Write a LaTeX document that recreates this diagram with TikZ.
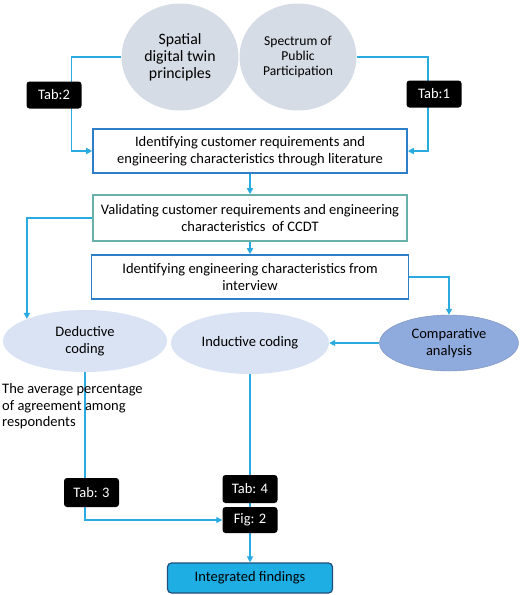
\documentclass[tikz,border=0pt]{standalone}
\usepackage{fontspec}
\setmainfont{Carlito}
\usetikzlibrary{%
        arrows.meta,
        shapes.geometric
    }
\definecolor{flowblue}{RGB}{41, 171, 226}
\definecolor{boxblue}{RGB}{47, 127, 200}
\definecolor{boxteal}{RGB}{106, 176, 170}
\definecolor{circlegray}{RGB}{214, 220, 229}
\definecolor{ovalblue}{RGB}{218, 227, 243}
\definecolor{compblue}{RGB}{143, 170, 220}
\definecolor{findblue}{RGB}{30, 174, 228}
\definecolor{darkblue}{RGB}{31, 78, 121}
\pgfdeclarelayer{background}
\pgfsetlayers{background,main}
\tikzset{%
    flow/.style={draw=flowblue, line width=1.6pt,
        -{Triangle[length=6pt, width=6pt]}},
    plain/.style={draw=flowblue, line width=1.6pt},
    tabel/.style={fill=black, text=white, rounded corners=3pt,
        minimum width=55pt, minimum height=27pt, inner sep=0pt,
        font=\fontsize{14.5}{16}\selectfont},
    stepbox/.style={draw, fill=white, line width=1.6pt, align=center,
        minimum height=44pt, inner sep=2pt,
        font=\fontsize{14.5}{17}\selectfont},
    oval/.style={ellipse, fill=ovalblue, align=center, inner sep=0pt,
        font=\fontsize{14.5}{17}\selectfont}
}

\begin{document}
\begin{tikzpicture}[x=1pt, y=-1pt]

    \useasboundingbox (0, 0) rectangle (520, 595);

    % Sources
    \node[ellipse, fill=circlegray, minimum width=117pt, minimum height=107pt,
        align=center, inner sep=0pt, font=\fontsize{15.8}{17}\selectfont]
        (sdt) at (180, 57) {Spatial\\digital twin\\principles};
    \node[ellipse, fill=circlegray, minimum width=117pt, minimum height=107pt,
        align=center, inner sep=0pt, font=\fontsize{13.6}{15}\selectfont]
        (spp) at (298, 57) {Spectrum of\\Public\\Participation};

    \node[tabel] (tab2) at (54, 95) {Tab:2};
    \node[tabel] (tab1) at (434, 94) {Tab:1};

    % Steps
    \node[stepbox, draw=boxblue, minimum width=314pt] (lit) at (250, 151)
        {Identifying customer requirements and\\
         engineering characteristics through literature};
    \node[stepbox, draw=boxteal, minimum width=314pt, minimum height=46pt]
        (val) at (250, 218)
        {Validating customer requirements and engineering\\
         characteristics \ of CCDT};
    \node[stepbox, draw=boxblue, minimum width=317pt] (intv) at (250, 277)
        {Identifying engineering characteristics from\\interview};

    % Coding
    \node[oval, minimum width=164pt, minimum height=62pt] (ded) at (85, 341)
        {Deductive\\coding};
    \node[oval, minimum width=158pt, minimum height=62pt] (ind) at (250, 343)
        {Inductive coding};
    \node[oval, fill=compblue, draw=compblue!85!black, line width=0.4pt,
        minimum width=139pt, minimum height=56pt] (comp) at (449, 343)
        {Comparative\\analysis};

    \node[anchor=north west, align=left, inner sep=0pt,
        font=\fontsize{14.5}{16.8}\selectfont] (avg) at (2, 383)
        {The average percentage\\of agreement among\\respondents};

    % Results
    \node[tabel, minimum height=29pt] (tab3) at (91.5, 492.5) {Tab: 3};
    \node[tabel, minimum height=28pt] (tab4) at (250, 489) {Tab: 4};
    \node[tabel, minimum height=26pt] (fig2) at (250, 520) {Fig: 2};

    \node[fill=findblue, draw=darkblue, line width=1.2pt, rounded corners=4pt,
        minimum width=165pt, minimum height=30pt,
        font=\fontsize{14.5}{16}\selectfont] (intf) at (250, 578)
        {Integrated findings};

    % Connecting up
    \begin{pgfonlayer}{background}
        \draw[flow] (sdt.west) -- ++(-50, 0) |- (lit.west);
        \draw[flow] (spp.east) -- ++(71, 0) |- (lit.east);
        \draw[flow] (lit.south) -- (val.north);
        \draw[flow] (val.south) -- (intv.north);
        \draw[flow] (val.west) -| (ded.north west);
        \draw[flow] (intv.east) -| (comp.north);
        \draw[flow] (comp.west) -- (ind.east);
        \draw[plain] (ded.south) -- (ded.south |- tab3.north);
        \draw[flow] (ded.south |- tab3.south) |- (fig2.west);
        \draw[plain] (ind.south) -- (tab4.north);
        \draw[plain] (tab4.south) -- (fig2.north);
        \draw[flow] (fig2.south) -- (intf.north);
    \end{pgfonlayer}

\end{tikzpicture}
\end{document}
